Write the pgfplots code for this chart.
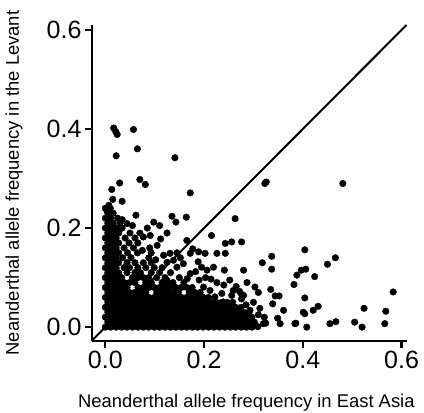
\documentclass[border=0pt]{standalone}
\usepackage{fontspec}
\setmainfont{Liberation Sans}
\usepackage{pgfplots}
\pgfplotsset{compat=1.18}
\begin{document}
\begin{tikzpicture}
\begin{axis}[
  scale only axis, width=315pt, height=316pt,
  xmin=-0.027, xmax=0.611, ymin=-0.028, ymax=0.61,
  axis x line*=bottom, axis y line*=left,
  axis line style={line width=2.3pt},
  xtick={0,0.2,0.4,0.6}, ytick={0,0.2,0.4,0.6},
  xticklabels={0.0,0.2,0.4,0.6}, yticklabels={0.0,0.2,0.4,0.6},
  minor tick num=0,
  tick align=outside, major tick length=7pt,
  every tick/.style={black, line width=2.3pt},
  ticklabel style={font=\fontsize{25}{25}\selectfont},
  xlabel={Neanderthal allele frequency in East Asia},
  ylabel={Neanderthal allele frequency in the Levant},
  label style={font=\fontsize{18.4}{20}\selectfont},
  xlabel style={at={(rel axis cs:0.49,-0.209)}, anchor=base},
  ylabel style={at={(rel axis cs:-0.232,0.5)}, anchor=base},
  clip=false,
]
\coordinate (O) at (rel axis cs:0,0);
% dense region
\addplot[only marks, mark=*, mark size=3.3pt, black] coordinates {
(0.000,0.000) (0.011,0.000) (0.022,0.000) (0.033,0.000) (0.044,0.000) (0.055,0.000) (0.066,0.000) (0.077,0.000) (0.088,0.000) (0.099,0.000) (0.110,0.000) (0.121,0.000) (0.132,0.000) (0.143,0.000) (0.154,0.000) (0.165,0.000) (0.176,0.000) (0.187,0.000) (0.198,0.000) (0.209,0.000) (0.220,0.000) (0.231,0.000) (0.242,0.000) (0.253,0.000) (0.264,0.000) (0.275,0.000) (0.286,0.000) (0.297,0.000) (0.309,0.001)
(0.005,0.010) (0.016,0.010) (0.027,0.010) (0.038,0.010) (0.049,0.010) (0.060,0.010) (0.071,0.010) (0.082,0.010) (0.093,0.010) (0.104,0.010) (0.115,0.010) (0.126,0.010) (0.137,0.010) (0.148,0.010) (0.159,0.010) (0.170,0.010) (0.181,0.010) (0.192,0.010) (0.203,0.010) (0.214,0.010) (0.225,0.010) (0.236,0.010) (0.247,0.010) (0.258,0.010) (0.269,0.010) (0.280,0.010) (0.291,0.010) (0.302,0.010)
(0.000,0.020) (0.011,0.020) (0.022,0.020) (0.033,0.020) (0.044,0.020) (0.055,0.020) (0.066,0.020) (0.077,0.020) (0.088,0.020) (0.099,0.020) (0.110,0.020) (0.121,0.020) (0.132,0.020) (0.143,0.020) (0.154,0.020) (0.165,0.020) (0.176,0.020) (0.187,0.020) (0.198,0.020) (0.209,0.020) (0.220,0.020) (0.231,0.020) (0.242,0.020) (0.253,0.020) (0.264,0.020) (0.275,0.020) (0.286,0.020) (0.297,0.020)
(0.005,0.030) (0.016,0.030) (0.027,0.030) (0.038,0.030) (0.049,0.030) (0.060,0.030) (0.071,0.030) (0.082,0.030) (0.093,0.030) (0.104,0.030) (0.115,0.030) (0.126,0.030) (0.137,0.030) (0.148,0.030) (0.159,0.030) (0.170,0.030) (0.181,0.030) (0.192,0.030) (0.203,0.030) (0.214,0.030) (0.225,0.030) (0.236,0.030) (0.247,0.030) (0.258,0.030) (0.269,0.030) (0.280,0.030) (0.291,0.030)
(0.000,0.040) (0.011,0.040) (0.022,0.040) (0.033,0.040) (0.044,0.040) (0.055,0.040) (0.066,0.040) (0.077,0.040) (0.088,0.040) (0.099,0.040) (0.110,0.040) (0.121,0.040) (0.132,0.040) (0.143,0.040) (0.154,0.040) (0.165,0.040) (0.176,0.040) (0.187,0.040) (0.198,0.040) (0.209,0.040) (0.220,0.040) (0.231,0.040) (0.242,0.040) (0.253,0.040) (0.264,0.040) (0.275,0.040)
(0.005,0.050) (0.016,0.050) (0.027,0.050) (0.038,0.050) (0.049,0.050) (0.060,0.050) (0.071,0.050) (0.082,0.050) (0.093,0.050) (0.104,0.050) (0.115,0.050) (0.126,0.050) (0.137,0.050) (0.148,0.050) (0.159,0.050) (0.170,0.050) (0.181,0.050) (0.192,0.050) (0.203,0.050) (0.214,0.050) (0.225,0.050) (0.236,0.050) (0.247,0.050) (0.258,0.050)
(0.000,0.060) (0.011,0.060) (0.022,0.060) (0.033,0.060) (0.044,0.060) (0.055,0.060) (0.066,0.060) (0.077,0.060) (0.088,0.060) (0.099,0.060) (0.110,0.060) (0.121,0.060) (0.132,0.060) (0.143,0.060) (0.154,0.060) (0.165,0.060) (0.176,0.060) (0.187,0.060) (0.198,0.060) (0.209,0.060)
(0.005,0.070) (0.016,0.070) (0.027,0.070) (0.038,0.070) (0.049,0.070) (0.060,0.070) (0.071,0.070) (0.082,0.070) (0.104,0.070) (0.115,0.070) (0.126,0.070) (0.137,0.070) (0.148,0.070) (0.170,0.070) (0.181,0.070) (0.192,0.070)
(0.000,0.080) (0.011,0.080) (0.022,0.080) (0.033,0.080) (0.044,0.080) (0.066,0.080) (0.077,0.080) (0.088,0.080) (0.099,0.080) (0.110,0.080) (0.121,0.080) (0.143,0.080) (0.154,0.080) (0.165,0.080) (0.176,0.080)
(0.005,0.090) (0.016,0.090) (0.027,0.090) (0.038,0.090) (0.049,0.090) (0.060,0.090) (0.082,0.090) (0.093,0.090) (0.115,0.090) (0.126,0.090) (0.137,0.090) (0.159,0.090)
(0.000,0.100) (0.011,0.100) (0.022,0.100) (0.033,0.100) (0.055,0.100) (0.066,0.100) (0.077,0.100) (0.088,0.100) (0.104,0.100) (0.121,0.100) (0.150,0.100)
(0.005,0.110) (0.016,0.110) (0.027,0.110) (0.044,0.110) (0.060,0.110) (0.071,0.110) (0.093,0.110) (0.110,0.110) (0.132,0.110) (0.172,0.108)
(0.000,0.120) (0.011,0.120) (0.022,0.120) (0.038,0.120) (0.049,0.120) (0.066,0.120) (0.082,0.120) (0.099,0.120) (0.115,0.120) (0.145,0.121)
(0.005,0.130) (0.016,0.130) (0.027,0.130) (0.044,0.130) (0.060,0.130) (0.077,0.130) (0.093,0.130) (0.125,0.131) (0.158,0.128)
(0.000,0.140) (0.011,0.140) (0.022,0.140) (0.035,0.140) (0.052,0.140) (0.088,0.140)
(0.005,0.150) (0.016,0.150) (0.027,0.150) (0.045,0.150) (0.065,0.150) (0.093,0.150) (0.131,0.149) (0.145,0.150)
(0.000,0.160) (0.011,0.160) (0.022,0.160) (0.038,0.160) (0.057,0.160) (0.090,0.160)
(0.005,0.170) (0.016,0.170) (0.027,0.170) (0.048,0.170) (0.066,0.170)
(0.000,0.180) (0.011,0.180) (0.022,0.180) (0.040,0.180) (0.060,0.180) (0.077,0.182)
(0.005,0.190) (0.016,0.190) (0.027,0.190) (0.050,0.190) (0.070,0.190)
(0.000,0.200) (0.011,0.200) (0.022,0.200) (0.034,0.200)
(0.005,0.210) (0.016,0.210) (0.030,0.210) (0.044,0.209)
(0.000,0.220) (0.011,0.220) (0.025,0.220)
(0.005,0.230) (0.016,0.230)
(0.000,0.240) (0.010,0.240)
};
% scattered points
\addplot[only marks, mark=*, mark size=3.3pt, black] coordinates {
(0.017,0.402) (0.024,0.389) (0.021,0.395) (0.057,0.399) (0.065,0.360) (0.022,0.346) (0.141,0.342)
(0.029,0.291) (0.070,0.298) (0.081,0.288) (0.013,0.278) (0.172,0.271) (0.015,0.258) (0.034,0.254)
(0.007,0.246) (0.003,0.236) (0.034,0.217) (0.091,0.185) (0.110,0.205) (0.135,0.224) (0.164,0.222)
(0.143,0.212) (0.165,0.175) (0.177,0.158) (0.189,0.152) (0.172,0.149) (0.202,0.149) (0.226,0.149)
(0.243,0.149) (0.243,0.169) (0.256,0.172) (0.276,0.172) (0.215,0.185) (0.263,0.219) (0.323,0.290)
(0.326,0.293) (0.337,0.143) (0.318,0.130) (0.337,0.117) (0.280,0.115) (0.241,0.115) (0.219,0.121)
(0.206,0.115) (0.195,0.121) (0.404,0.156) (0.481,0.290) (0.466,0.140) (0.450,0.127) (0.397,0.115)
(0.406,0.117) (0.424,0.102) (0.388,0.105) (0.382,0.086) (0.287,0.090) (0.265,0.082) (0.272,0.072)
(0.276,0.066) (0.303,0.081) (0.310,0.070) (0.335,0.076) (0.344,0.063) (0.352,0.063) (0.339,0.047)
(0.361,0.034) (0.313,0.038) (0.401,0.030) (0.384,0.007) (0.408,0.000) (0.320,0.007) (0.354,0.007)
(0.259,0.074) (0.280,0.064) (0.236,0.068) (0.239,0.051) (0.293,0.034) (0.310,0.025) (0.349,0.018)
(0.386,0.008) (0.325,0.008) (0.404,0.059) (0.431,0.042) (0.421,0.034) (0.404,0.027) (0.455,0.007)
(0.467,0.011) (0.505,0.010) (0.520,0.000) (0.566,0.007) (0.568,0.032) (0.524,0.038) (0.583,0.071)
(0.199,0.081) (0.212,0.074) (0.222,0.061) (0.256,0.064) (0.276,0.057) (0.203,0.100) (0.190,0.095)
(0.131,0.081) (0.125,0.094) (0.226,0.090) (0.285,0.045) (0.300,0.050) (0.322,0.020)
(0.075,0.155) (0.105,0.165) (0.118,0.145) (0.102,0.136) (0.138,0.135) (0.152,0.140) (0.112,0.178)
(0.085,0.200) (0.055,0.205) (0.125,0.190) (0.183,0.112) (0.166,0.098) (0.214,0.097) (0.240,0.085)
(0.252,0.095) (0.188,0.132) (0.062,0.226) (0.098,0.212)
};
% reference line y = x
\addplot[black, line width=2pt] coordinates {(-0.027,-0.027) (0.61,0.61)};
\end{axis}
\pgfresetboundingbox
\path (O) ++(-92pt,-72pt) rectangle ++(424pt,413pt);
\end{tikzpicture}
\end{document}
